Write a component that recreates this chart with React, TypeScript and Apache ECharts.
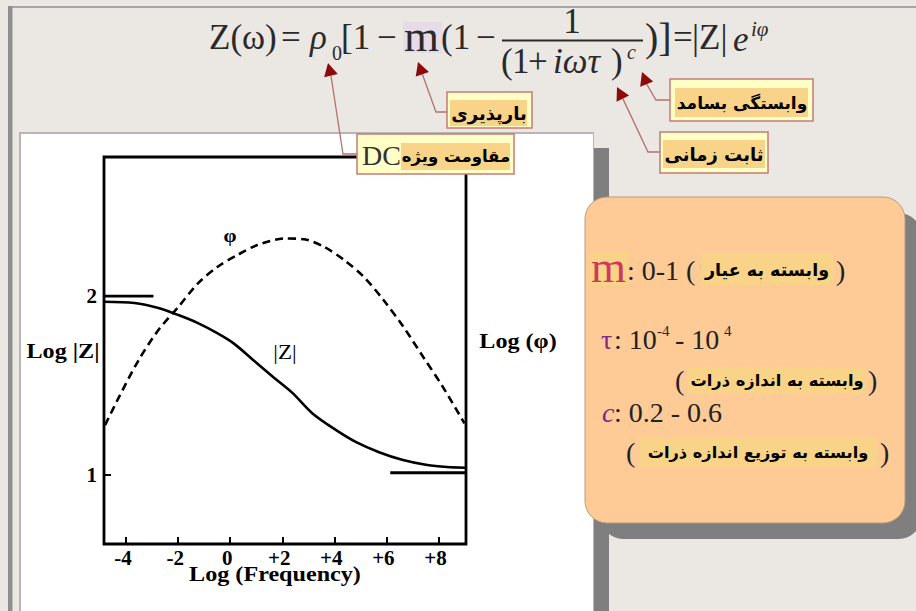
import React, { useEffect, useRef } from 'react';
import * as echarts from 'echarts';

// ---------- data ----------
const xTickValues = [-4, -2, 0, 2, 4, 6, 8];
const yTickValues = [1, 2];
const xRange = [-4.85, 9.06];
const yRange = [0.615, 2.777];

// |Z| curve (log frequency, log |Z|)
const zFreq = [-4.85, -3.68, -2.76, -1.99, -1.24, -0.5, 0.12, 0.89, 1.66, 2.4, 3.15, 4.07, 4.84, 5.72, 6.64, 7.57, 8.33, 9.05];
const zValues = [1.968, 1.961, 1.933, 1.894, 1.849, 1.793, 1.737, 1.642, 1.547, 1.458, 1.346, 1.251, 1.184, 1.128, 1.084, 1.056, 1.045, 1.041];

// phase curve (dashed)
const phiFreq = [-4.81, -4.27, -3.52, -2.76, -1.99, -1.24, -0.48, 0.27, 1.04, 2.1, 2.85, 3.61, 4.38, 5.13, 5.89, 6.65, 7.41, 8.17, 9.0];
const phiValues = [1.279, 1.437, 1.642, 1.81, 1.94, 2.071, 2.164, 2.229, 2.285, 2.322, 2.317, 2.275, 2.201, 2.108, 1.978, 1.829, 1.661, 1.493, 1.289];

// asymptote markers
const highAsymptote = [[-4.85, 2], [-2.95, 2]];
const lowAsymptote = [[6.15, 1.013], [9.06, 1.013]];

// ---------- texts ----------
const faChargeability = 'بارپذیری';
const faFreqDep = 'وابستگی بسامد';
const faTimeConst = 'ثابت زمانی';
const faResistivity = 'مقاومت ویژه';
const faGrade = 'وابسته به عیار';
const faGrainSize = 'وابسته به اندازه ذرات';
const faGrainDist = 'وابسته به توزیع اندازه ذرات';

const serif = "'Liberation Serif', 'Times New Roman', serif";
const fa = "'DejaVu Sans', sans-serif";

function T(x: number, y: number, text: string, o: any = {}) {
  const family = o.font ?? serif;
  const size = o.size ?? 20;
  const weight = o.weight ?? 'normal';
  const fstyle = o.style ?? 'normal';
  return {
    type: 'text',
    z: o.z ?? 100,
    x,
    y,
    scaleX: o.sx ?? 1,
    style: {
      text,
      font: `${fstyle} ${weight} ${size}px ${family}`,
      fill: o.color ?? '#2a2a2a',
      align: o.align ?? 'left',
      textAlign: o.align ?? 'left',
      verticalAlign: 'middle',
      textVerticalAlign: 'middle',
    },
  };
}

function R(x: number, y: number, w: number, h: number, fill: string, o: any = {}) {
  return {
    type: 'rect',
    z: o.z ?? 90,
    shape: { x, y, width: w, height: h, r: o.r ?? 0 },
    style: { fill, stroke: o.stroke ?? null, lineWidth: o.lw ?? 0 },
  };
}

function arrow(tip: number[], path: number[][]) {
  const p0 = path[0];
  const dx = tip[0] - p0[0];
  const dy = tip[1] - p0[1];
  const len = Math.sqrt(dx * dx + dy * dy);
  const ux = dx / len;
  const uy = dy / len;
  const L = 13;
  const W = 7;
  const bx = tip[0] - ux * L;
  const by = tip[1] - uy * L;
  return [
    {
      type: 'polyline',
      z: 95,
      shape: { points: [[bx, by], ...path.slice(1)] },
      style: { stroke: '#b27272', lineWidth: 1.3, fill: null },
    },
    {
      type: 'polygon',
      z: 96,
      shape: {
        points: [tip, [bx - uy * W, by + ux * W], [bx + uy * W, by - ux * W]],
      },
      style: { fill: '#8c0a0a' },
    },
  ];
}

function labelBox(x: number, y: number, w: number, h: number) {
  return R(x, y, w, h, '#ffffc6', { stroke: '#c47c7a', lw: 1.5, z: 97 });
}

export default function App() {
  const ref = useRef<HTMLDivElement>(null);
  useEffect(() => {
    if (!ref.current) return;
    const chart = echarts.init(ref.current, null, { renderer: 'svg' });
    const hl = '#f8d388';
    const ink = '#2a2a2a';
    const graphic: any[] = [
      // page frame
      R(8, 6, 908, 2, '#a6a6a6', { z: -20 }),
      R(8, 6, 4.5, 605, '#8e8e8e', { z: -20 }),
      // white panel shadow + panel
      R(593, 148, 16, 463, '#7f7f7f', { z: -19 }),
      R(19, 132, 575, 479, '#b8b5b2', { z: -18 }),
      R(21, 134, 572, 477, '#ffffff', { z: -17 }),
      // orange box + shadow
      R(601, 213, 320, 326, '#7f7f7f', { z: 80, r: 22 }),
      R(585, 197, 320, 326, '#fecb97', { z: 81, r: 22, stroke: '#b99a7e', lw: 1 }),

      // ---- formula ----
      T(209, 37, 'Z(ω)', { size: 35, color: ink }),
      T(281, 37, '=', { size: 35, color: ink }),
      T(310, 37, 'ρ', { size: 35, style: 'italic', color: ink }),
      T(332, 53, '0', { size: 20, color: ink }),
      T(341, 37, '[1', { size: 35, color: ink }),
      T(377, 37, '−', { size: 35, color: ink }),
      R(403, 22, 39, 31, '#e7dbe7', { z: 98 }),
      T(404, 36, 'm', { size: 45, color: ink }),
      T(441, 37, '(1', { size: 35, color: ink }),
      T(476, 37, '−', { size: 35, color: ink }),
      T(572, 21, '1', { size: 35, align: 'center', color: ink }),
      { type: 'line', z: 100, shape: { x1: 502, y1: 40.5, x2: 643, y2: 40.5 }, style: { stroke: ink, lineWidth: 2 } },
      T(501, 61, '(', { size: 35, color: ink }),
      T(512, 61, '1', { size: 35, color: ink }),
      T(528, 61, '+', { size: 35, color: ink }),
      T(553, 61, 'iωτ', { size: 35, style: 'italic', color: ink }),
      T(611, 61, ')', { size: 35, color: ink }),
      T(627, 52, 'c', { size: 20, style: 'italic', color: ink }),
      T(645, 37, ')]', { size: 40, color: ink }),
      T(673, 37, '=', { size: 35, color: ink }),
      T(692, 37, '|Z|', { size: 35, color: ink }),
      T(733, 39, 'e', { size: 35, style: 'italic', color: ink }),
      T(751, 29, 'iφ', { size: 21, style: 'italic', color: ink }),

      // ---- annotation boxes ----
      labelBox(447, 92, 85, 36),
      R(450, 100, 77, 26, hl, { z: 98 }),
      T(489, 113, faChargeability, { font: fa, size: 18, weight: 'bold', align: 'center', color: '#000' }),

      labelBox(670, 79, 143, 42),
      R(675, 88, 133, 29, hl, { z: 98 }),
      T(742, 103, faFreqDep, { font: fa, size: 17, weight: 'bold', align: 'center', color: '#000' }),

      labelBox(660, 132, 108, 41),
      R(663, 140, 102, 28, hl, { z: 98 }),
      T(714, 154, faTimeConst, { font: fa, size: 18, weight: 'bold', align: 'center', color: '#000' }),

      labelBox(357, 134, 157, 40),
      R(401, 143, 109, 27, hl, { z: 98 }),
      T(362, 155, 'DC', { size: 28, color: '#333' }),
      T(456, 156, faResistivity, { font: fa, size: 16.5, weight: 'bold', align: 'center', color: '#000' }),

      ...arrow([328, 63], [[332, 80], [343, 154], [357, 154]]),
      ...arrow([418, 62], [[423, 76], [436, 112], [447, 112]]),
      ...arrow([617, 87], [[623, 99], [648, 152], [660, 152]]),
      ...arrow([642, 72], [[647, 85], [656, 100], [670, 100]]),

      // ---- orange box contents ----
      R(590, 252, 38, 33, hl, { z: 98 }),
      T(591, 267, 'm', { size: 45, color: '#cf3a5c' }),
      T(627, 270, ': 0-1 (', { size: 28, color: '#222' }),
      R(702, 253, 131, 32, hl, { z: 98 }),
      T(767, 270, faGrade, { font: fa, size: 17.5, weight: 'bold', align: 'center', color: '#000' }),
      T(836, 270, ')', { size: 28, color: '#222' }),

      T(601, 339, 'τ', { size: 28, color: '#7b2a85' }),
      T(614, 339, ': 10', { size: 28, color: '#222' }),
      T(657, 331, '-4', { size: 15, color: '#222' }),
      T(668, 339, ' - 10', { size: 28, color: '#222' }),
      T(724, 331, '4', { size: 15, color: '#222' }),

      T(675, 380, '(', { size: 28, color: '#222' }),
      R(688, 367, 178, 27, hl, { z: 98 }),
      T(777, 380, faGrainSize, { font: fa, size: 16.3, weight: 'bold', align: 'center', color: '#000' }),
      T(868, 380, ')', { size: 28, color: '#222' }),

      T(602, 412, 'c', { size: 28, style: 'italic', color: '#7b2a85' }),
      T(614, 412, ': 0.2 - 0.6', { size: 28, color: '#222' }),

      T(626, 452, '(', { size: 28, color: '#222' }),
      R(640, 438, 237, 29, hl, { z: 98 }),
      T(758, 452, faGrainDist, { font: fa, size: 16.2, weight: 'bold', align: 'center', color: '#000' }),
      T(880, 452, ')', { size: 28, color: '#222' }),

      // ---- axis names / curve labels ----
      T(63, 351, 'Log |Z|', { size: 21, weight: 'bold', align: 'center', color: '#000', z: 50, sx: 1.15 }),
      T(518, 341, 'Log (φ)', { size: 21, weight: 'bold', align: 'center', color: '#000', z: 50, sx: 1.15 }),
      T(275, 574, 'Log (Frequency)', { size: 21, weight: 'bold', align: 'center', color: '#000', z: 50, sx: 1.15 }),
      T(230, 235, 'φ', { size: 19, weight: 'bold', align: 'center', color: '#000', z: 50, sx: 1.1 }),
      T(285, 352, '|Z|', { size: 21, align: 'center', color: '#000', z: 50, sx: 1.1 }),
    ];

    const lineStyleBase = { color: '#000', width: 2.6 };
    chart.setOption({
      animation: false,
      backgroundColor: '#ebe7e3',
      grid: {
        left: 104,
        top: 157,
        width: 362,
        height: 387,
        show: true,
        borderColor: '#000',
        borderWidth: 2.8,
        backgroundColor: 'transparent',
        z: 2,
      },
      xAxis: {
        type: 'value',
        min: xRange[0],
        max: xRange[1],
        splitLine: { show: false },
        axisLine: { show: false, onZero: false },
        axisTick: {
          show: true,
          inside: true,
          length: 7,
          customValues: xTickValues,
          lineStyle: { color: '#000', width: 2 },
        },
        axisLabel: {
          customValues: xTickValues,
          margin: 3,
          padding: [0, 6, 0, 0],
          color: '#000',
          fontFamily: serif,
          fontWeight: 'bold',
          fontSize: 21,
          formatter: (v: number) => (v > 0 ? '+' + v : String(v)),
        },
      },
      yAxis: {
        type: 'value',
        min: yRange[0],
        max: yRange[1],
        splitLine: { show: false },
        axisLine: { show: false, onZero: false },
        axisTick: {
          show: true,
          inside: true,
          length: 7,
          customValues: yTickValues,
          lineStyle: { color: '#000', width: 2 },
        },
        axisLabel: {
          customValues: yTickValues,
          margin: 7,
          color: '#000',
          fontFamily: serif,
          fontWeight: 'bold',
          fontSize: 21,
        },
      },
      graphic,
      series: [
        {
          type: 'line',
          data: zFreq.map((x, i) => [x, zValues[i]]),
          smooth: 0.3,
          showSymbol: false,
          lineStyle: { ...lineStyleBase },
        },
        {
          type: 'line',
          data: phiFreq.map((x, i) => [x, phiValues[i]]),
          smooth: 0.3,
          showSymbol: false,
          lineStyle: { ...lineStyleBase, type: [8, 5] },
        },
        {
          type: 'line',
          data: highAsymptote,
          showSymbol: false,
          lineStyle: { ...lineStyleBase, width: 2.8 },
        },
        {
          type: 'line',
          data: lowAsymptote,
          showSymbol: false,
          lineStyle: { ...lineStyleBase, width: 2.8 },
        },
      ],
    });
    return () => chart.dispose();
  }, []);
  return (
    <div
      ref={ref}
      style={{ position: 'fixed', left: 0, top: 0, width: 916, height: 611 }}
    />
  );
}
